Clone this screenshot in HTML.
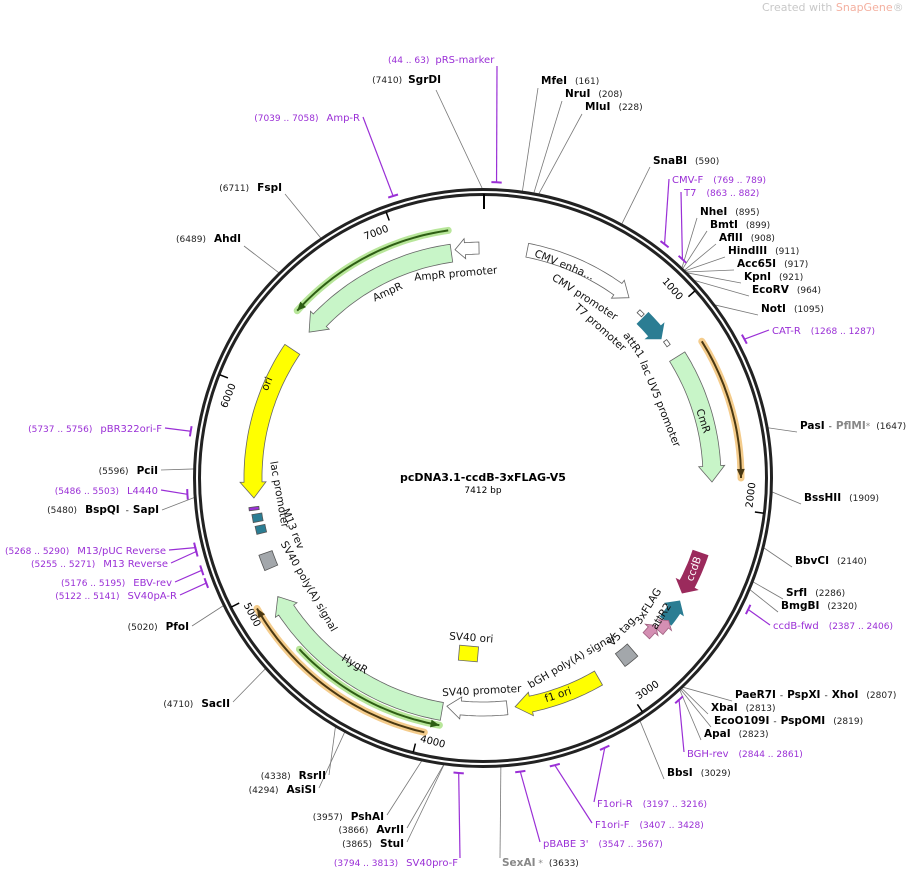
<!DOCTYPE html>
<html><head><meta charset="utf-8"><style>
html,body{margin:0;padding:0;background:#fff;}
svg{display:block;font-family:"DejaVu Sans","Liberation Sans",sans-serif;}
.b{font-weight:bold;font-size:10.5px;fill:#000}
.n{font-size:9px;fill:#222}
.p{font-size:10px;fill:#9a2fd6}
.pn{font-size:9px;fill:#9a2fd6}
.f{font-size:10.5px;fill:#111}
</style></head><body>
<svg id="s" width="913" height="870" viewBox="0 0 913 870" xmlns="http://www.w3.org/2000/svg">
<g id="g"></g>
<text x="762" y="11" font-size="11" fill="#c8c8c8">Created with <tspan fill="#f4b0a0">SnapGene</tspan>®</text>
<text x="483" y="481" text-anchor="middle" font-weight="bold" font-size="11">pcDNA3.1-ccdB-3xFLAG-V5</text>
<text x="483" y="493" text-anchor="middle" font-size="9">7412 bp</text>

<text x="388" y="63"><tspan class="pn">(44 .. 63)</tspan><tspan class="p" dx="6">pRS-marker</tspan></text>
<text x="441" y="83" text-anchor="end"><tspan class="n">(7410)</tspan><tspan class="b" dx="6">SgrDI</tspan></text>
<text x="541" y="84"><tspan class="b">MfeI</tspan><tspan class="n" dx="8">(161)</tspan></text>
<text x="565" y="97"><tspan class="b">NruI</tspan><tspan class="n" dx="8">(208)</tspan></text>
<text x="585" y="110"><tspan class="b">MluI</tspan><tspan class="n" dx="8">(228)</tspan></text>
<text x="653" y="164"><tspan class="b">SnaBI</tspan><tspan class="n" dx="8">(590)</tspan></text>
<text x="672" y="183"><tspan class="p">CMV-F</tspan><tspan class="pn" dx="10">(769 .. 789)</tspan></text>
<text x="684" y="196"><tspan class="p">T7</tspan><tspan class="pn" dx="10">(863 .. 882)</tspan></text>
<text x="700" y="215"><tspan class="b">NheI</tspan><tspan class="n" dx="8">(895)</tspan></text>
<text x="710" y="228"><tspan class="b">BmtI</tspan><tspan class="n" dx="8">(899)</tspan></text>
<text x="719" y="241"><tspan class="b">AflII</tspan><tspan class="n" dx="8">(908)</tspan></text>
<text x="728" y="254"><tspan class="b">HindIII</tspan><tspan class="n" dx="8">(911)</tspan></text>
<text x="737" y="267"><tspan class="b">Acc65I</tspan><tspan class="n" dx="8">(917)</tspan></text>
<text x="744" y="280"><tspan class="b">KpnI</tspan><tspan class="n" dx="8">(921)</tspan></text>
<text x="752" y="293"><tspan class="b">EcoRV</tspan><tspan class="n" dx="8">(964)</tspan></text>
<text x="761" y="312"><tspan class="b">NotI</tspan><tspan class="n" dx="8">(1095)</tspan></text>
<text x="772" y="334"><tspan class="p">CAT-R</tspan><tspan class="pn" dx="10">(1268 .. 1287)</tspan></text>
<text x="800" y="429"><tspan class="b">PasI</tspan><tspan class="n" dx="4">-</tspan><tspan class="b" dx="4" style="fill:#888">PflMI</tspan><tspan class="n" style="fill:#888">*</tspan><tspan class="n" dx="6">(1647)</tspan></text>
<text x="804" y="501"><tspan class="b">BssHII</tspan><tspan class="n" dx="8">(1909)</tspan></text>
<text x="795" y="564"><tspan class="b">BbvCI</tspan><tspan class="n" dx="8">(2140)</tspan></text>
<text x="786" y="596"><tspan class="b">SrfI</tspan><tspan class="n" dx="8">(2286)</tspan></text>
<text x="781" y="609"><tspan class="b">BmgBI</tspan><tspan class="n" dx="8">(2320)</tspan></text>
<text x="773" y="629"><tspan class="p">ccdB-fwd</tspan><tspan class="pn" dx="10">(2387 .. 2406)</tspan></text>
<text x="735" y="698"><tspan class="b">PaeR7I</tspan><tspan class="n" dx="4">-</tspan><tspan class="b" dx="4">PspXI</tspan><tspan class="n" dx="4">-</tspan><tspan class="b" dx="4">XhoI</tspan><tspan class="n" dx="8">(2807)</tspan></text>
<text x="711" y="711"><tspan class="b">XbaI</tspan><tspan class="n" dx="8">(2813)</tspan></text>
<text x="714" y="724"><tspan class="b">EcoO109I</tspan><tspan class="n" dx="4">-</tspan><tspan class="b" dx="4">PspOMI</tspan><tspan class="n" dx="8">(2819)</tspan></text>
<text x="704" y="737"><tspan class="b">ApaI</tspan><tspan class="n" dx="8">(2823)</tspan></text>
<text x="687" y="757"><tspan class="p">BGH-rev</tspan><tspan class="pn" dx="10">(2844 .. 2861)</tspan></text>
<text x="667" y="776"><tspan class="b">BbsI</tspan><tspan class="n" dx="8">(3029)</tspan></text>
<text x="597" y="807"><tspan class="p">F1ori-R</tspan><tspan class="pn" dx="10">(3197 .. 3216)</tspan></text>
<text x="595" y="828"><tspan class="p">F1ori-F</tspan><tspan class="pn" dx="10">(3407 .. 3428)</tspan></text>
<text x="543" y="847"><tspan class="p">pBABE 3'</tspan><tspan class="pn" dx="10">(3547 .. 3567)</tspan></text>
<text x="502" y="866"><tspan class="b" style="fill:#888">SexAI</tspan><tspan class="n" style="fill:#888"> *</tspan><tspan class="n" dx="6">(3633)</tspan></text>

<text x="458" y="866" text-anchor="end"><tspan class="pn">(3794 .. 3813)</tspan><tspan class="p" dx="8">SV40pro-F</tspan></text>
<text x="404" y="847" text-anchor="end"><tspan class="n">(3865)</tspan><tspan class="b" dx="8">StuI</tspan></text>
<text x="404" y="833" text-anchor="end"><tspan class="n">(3866)</tspan><tspan class="b" dx="8">AvrII</tspan></text>
<text x="384" y="820" text-anchor="end"><tspan class="n">(3957)</tspan><tspan class="b" dx="8">PshAI</tspan></text>
<text x="316" y="793" text-anchor="end"><tspan class="n">(4294)</tspan><tspan class="b" dx="8">AsiSI</tspan></text>
<text x="326" y="779" text-anchor="end"><tspan class="n">(4338)</tspan><tspan class="b" dx="8">RsrII</tspan></text>
<text x="230" y="707" text-anchor="end"><tspan class="n">(4710)</tspan><tspan class="b" dx="8">SacII</tspan></text>
<text x="189" y="630" text-anchor="end"><tspan class="n">(5020)</tspan><tspan class="b" dx="8">PfoI</tspan></text>
<text x="177" y="599" text-anchor="end"><tspan class="pn">(5122 .. 5141)</tspan><tspan class="p" dx="8">SV40pA-R</tspan></text>
<text x="172" y="586" text-anchor="end"><tspan class="pn">(5176 .. 5195)</tspan><tspan class="p" dx="8">EBV-rev</tspan></text>
<text x="168" y="567" text-anchor="end"><tspan class="pn">(5255 .. 5271)</tspan><tspan class="p" dx="8">M13 Reverse</tspan></text>
<text x="166" y="554" text-anchor="end"><tspan class="pn">(5268 .. 5290)</tspan><tspan class="p" dx="8">M13/pUC Reverse</tspan></text>
<text x="159" y="513" text-anchor="end"><tspan class="n">(5480)</tspan><tspan class="b" dx="8">BspQI</tspan><tspan class="n" dx="6">-</tspan><tspan class="b" dx="4">SapI</tspan></text>
<text x="158" y="494" text-anchor="end"><tspan class="pn">(5486 .. 5503)</tspan><tspan class="p" dx="8">L4440</tspan></text>
<text x="158" y="474" text-anchor="end"><tspan class="n">(5596)</tspan><tspan class="b" dx="8">PciI</tspan></text>
<text x="162" y="432" text-anchor="end"><tspan class="pn">(5737 .. 5756)</tspan><tspan class="p" dx="8">pBR322ori-F</tspan></text>
<text x="241" y="242" text-anchor="end"><tspan class="n">(6489)</tspan><tspan class="b" dx="8">AhdI</tspan></text>
<text x="282" y="191" text-anchor="end"><tspan class="n">(6711)</tspan><tspan class="b" dx="8">FspI</tspan></text>
<text x="360" y="121" text-anchor="end"><tspan class="pn">(7039 .. 7058)</tspan><tspan class="p" dx="8">Amp-R</tspan></text>

<text class="f" transform="translate(456,277) rotate(-5)" text-anchor="middle">AmpR promoter</text>
<text class="f" transform="translate(389,295) rotate(-25)" text-anchor="middle">AmpR</text>
<text class="f" transform="translate(270,385) rotate(-68)" text-anchor="middle">ori</text>
<text class="f" transform="translate(563,268) rotate(22)" text-anchor="middle">CMV enha...</text>
<text class="f" transform="translate(583,300) rotate(33)" text-anchor="middle">CMV promoter</text>
<text class="f" transform="translate(598,330) rotate(42)" text-anchor="middle">T7 promoter</text>
<text class="f" transform="translate(631,347) rotate(55)" text-anchor="middle">attR1</text>
<text class="f" transform="translate(657,405) rotate(68)" text-anchor="middle">lac UV5 promoter</text>
<text class="f" transform="translate(700,422) rotate(72)" text-anchor="middle">CmR</text>
<text transform="translate(697,570) rotate(-70)" text-anchor="middle" font-size="10.5" fill="#fff">ccdB</text>
<text class="f" transform="translate(664,618) rotate(-58)" text-anchor="middle">attR2</text>
<text class="f" transform="translate(651,608) rotate(-58)" text-anchor="middle">3xFLAG</text>
<text class="f" transform="translate(624,634) rotate(-48)" text-anchor="middle">V5 tag</text>
<text class="f" transform="translate(573,664) rotate(-30)" text-anchor="middle">bGH poly(A) signal</text>
<text class="f" transform="translate(559,698) rotate(-18)" text-anchor="middle">f1 ori</text>
<text class="f" transform="translate(482,694) rotate(-3)" text-anchor="middle">SV40 promoter</text>
<text class="f" transform="translate(471,641) rotate(4)" text-anchor="middle">SV40 ori</text>
<text class="f" transform="translate(353,667) rotate(30)" text-anchor="middle">HygR</text>
<text class="f" transform="translate(306,588) rotate(60)" text-anchor="middle">SV40 poly(A) signal</text>
<text class="f" transform="translate(290,530) rotate(68)" text-anchor="middle">M13 rev</text>
<text class="f" transform="translate(276,495) rotate(80)" text-anchor="middle">lac promoter</text>
</svg>
<script>
var cx=483,cy=478,N=7412,g=document.getElementById('g'),NS='http://www.w3.org/2000/svg';
function P(r,a){a=a*Math.PI/180;return [cx+r*Math.sin(a),cy-r*Math.cos(a)];}
function A(bp){return bp/N*360;}
function el(t,at){var e=document.createElementNS(NS,t);for(var k in at)e.setAttribute(k,at[k]);g.appendChild(e);return e;}
function arcPts(r,a1,a2){var n=Math.max(2,Math.ceil(Math.abs(a2-a1))),o=[];for(var i=0;i<=n;i++){o.push(P(r,a1+(a2-a1)*i/n));}return o;}
function pts(a){return a.map(function(p){return p[0].toFixed(1)+','+p[1].toFixed(1)}).join(' ');}
var E=[[161,538,88],[208,562,101],[228,582,114],[590,650,167],[895,697,218],[899,707,231],[908,716,244],[911,725,257],[917,734,270],[921,741,283],[964,749,296],[1095,758,315],[1647,797,432],[1909,801,504],[2140,792,567],[2286,783,599],[2320,778,612],[2807,732,701],[2813,708,714],[2819,711,727],[2823,701,740],[3029,664,779],[3633,500,858],[7410,436,90],[3865,407,842],[3866,407,828],[3957,387,815],[4294,319,788],[4338,329,775],[4710,233,702],[5020,192,626],[5480,162,510],[5596,161,470],[6489,244,246],[6711,285,194]];
E.forEach(function(e){var p=P(289,A(e[0]));el('line',{x1:p[0],y1:p[1],x2:e[1],y2:e[2],stroke:'#777','stroke-width':0.8});});
var PR=[[54,497,66],[779,669,179],[872,681,192],[1277,769,330],[2396,770,625],[2852,684,752],[3206,594,802],[3417,592,823],[3557,540,842],[3803,460,858],[5131,180,595],[5185,175,582],[5263,171,563],[5279,169,550],[5494,161,490],[5746,165,428],[7048,363,117]];
PR.forEach(function(e){var a=A(e[0]),p=P(296,a);el('line',{x1:p[0],y1:p[1],x2:e[1],y2:e[2],stroke:'#9a2fd6','stroke-width':1.2});el('polyline',{points:pts(arcPts(296,a-1,a+1)),fill:'none',stroke:'#9a2fd6','stroke-width':2});});
el('circle',{cx:cx,cy:cy,r:286,fill:'none',stroke:'#222','stroke-width':8});
el('circle',{cx:cx,cy:cy,r:286,fill:'none',stroke:'#fff','stroke-width':2});
el('line',{x1:484,y1:194,x2:484,y2:209,stroke:'#000','stroke-width':2});
for(var k=1;k<=7;k++){var a=A(k*1000),p1=P(283,a),p2=P(274,a);el('line',{x1:p1[0],y1:p1[1],x2:p2[0],y2:p2[1],stroke:'#000','stroke-width':1.5});
 var tp=P(268,a+(a>90&&a<270?-3.5:-3.5)),rot=(a>90&&a<270)?a-180:a;var t=el('text',{transform:'translate('+tp[0]+','+tp[1]+') rotate('+rot+')','text-anchor':'middle','font-size':'10','dy':'3.5'});t.textContent=(k*1000)+'';}
function arrow(r,a1,a2,w,fill,stroke,hl){var s=a2>a1?1:-1;hl=hl||12;var hd=hl/r*180/Math.PI;if(hd>Math.abs(a2-a1))hd=Math.abs(a2-a1);var ab=a2-s*hd;
 var o=arcPts(r+w/2,a1,ab),i=arcPts(r-w/2,ab,a1);var pp=o.concat([P(r+w/2+4,ab),P(r,a2),P(r-w/2-4,ab)]).concat(i);
 el('polygon',{points:pts(pp),fill:fill,stroke:stroke,'stroke-width':0.8});}
function box(r,a1,a2,w,fill){var pp=arcPts(r+w/2,a1,a2).concat(arcPts(r-w/2,a2,a1));el('polygon',{points:pts(pp),fill:fill,stroke:'#555','stroke-width':0.8});}
function line(r,a1,a2,glow,col){var pp=pts(arcPts(r,a1,a2));el('polyline',{points:pp,fill:'none',stroke:glow,'stroke-width':7,'stroke-linecap':'round'});el('polyline',{points:pp,fill:'none',stroke:col,'stroke-width':2});
 var s=a2>a1?1:-1,t=P(r,a2),b1=P(r+4,a2-s*2),b2=P(r-4,a2-s*2);el('polygon',{points:pts([t,b1,b2]),fill:col});}
var LG='#c8f5c8';
arrow(227,-8,-50,18,LG,'#666',16);
arrow(230,-1,-7,12,'#fff','#666',10);
line(250,-8,-48,'#b8e69a','#2e5e14');
arrow(230,-56,-95,18,'#ffff00','#666',16);
arrow(232,11,39,14,'#fff','#666',14);
arrow(226,45,52,16,'#2b7d93','#2b7d93',10);
box(228,43,44.5,4,'#fff');box(228,53,54.5,4,'#fff');
arrow(229,58,91,18,LG,'#666',16);
line(258,58,90,'#f4cc8c','#4a3812');
arrow(230,109,120,16,'#9b2a5c','#9b2a5c',10);
arrow(232,128,122,14,'#2b7d93','#2b7d93',10);
arrow(234,131,127.5,9,'#d48fb3','#a06080',6);
arrow(227,134,130.5,9,'#d48fb3','#a06080',6);
box(228,139,143,16,'#a3a7ab');
arrow(231,150,172,16,'#ffff00','#666',16);
arrow(231,174,189,14,'#fff','#666',14);
arrow(237,190,240,18,LG,'#666',16);
line(251,227,190,'#b8e69a','#2e5e14');
line(261,193,240,'#f4cc8c','#4a3812');
box(230,247,251,14,'#a3a7ab');
box(228,256,258,10,'#2b7d93');box(229,259,261,10,'#2b7d93');box(231,262,262.8,10,'#9a2fd6');
el('rect',{x:459,y:646,width:19,height:15,fill:'#ffff00',stroke:'#666','stroke-width':0.8,transform:'rotate(5 468 653)'});
</script>
</body></html>
